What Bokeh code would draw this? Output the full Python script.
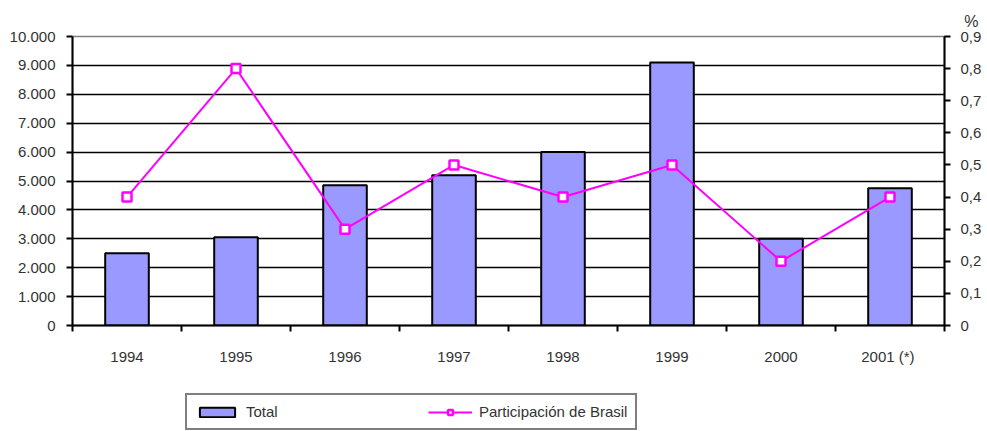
from bokeh.plotting import figure
from bokeh.layouts import column
from bokeh.models import (Range1d, LinearAxis, FixedTicker, ColumnDataSource,
                          Legend, LegendItem, Title)
from bokeh.embed import file_html
from bokeh.resources import INLINE

years = ["1994", "1995", "1996", "1997", "1998", "1999", "2000", "2001  (*)"]
total = [2500, 3050, 4850, 5200, 6000, 9100, 3000, 4750]
brasil = [0.4, 0.8, 0.3, 0.5, 0.4, 0.5, 0.2, 0.4]
left_ticks = [0, 1000, 2000, 3000, 4000, 5000, 6000, 7000, 8000, 9000, 10000]
right_ticks = [0, 0.1, 0.2, 0.3, 0.4, 0.5, 0.6, 0.7, 0.8, 0.9]

FONT = "Liberation Sans"
TXT = "#333333"
FS = "15px"
BAR_STYLE = dict(fill_color="#9999FF", line_color="black", line_width=2)
LINE_STYLE = dict(line_color="#FF00FF", line_width=2)
MK_STYLE = dict(marker="square", size=9, line_color="#FF00FF", line_width=2.5,
                fill_color="white")

n = len(years)
xc = [i + 0.5 for i in range(n)]
src = ColumnDataSource(dict(x=xc, total=total, brasil=brasil))

p = figure(width=987, height=370, output_backend="svg", toolbar_location=None,
           x_range=Range1d(0, n), y_range=Range1d(0, 10000),
           min_border_left=72, min_border_right=43, min_border_top=36,
           min_border_bottom=45)
p.extra_y_ranges = {"pct": Range1d(0, 0.9)}
p.outline_line_color = "#808080"
p.outline_line_width = 1.5
p.background_fill_color = "white"
p.border_fill_color = "white"

p.vbar(x="x", top="total", width=0.4, source=src, **BAR_STYLE)
p.line(x="x", y="brasil", source=src, y_range_name="pct", **LINE_STYLE)
p.scatter(x="x", y="brasil", source=src, y_range_name="pct", **MK_STYLE)

# x axis
xa = p.xaxis[0]
xa.ticker = FixedTicker(ticks=xc, minor_ticks=list(range(n + 1)))
xa.major_label_overrides = {x: y for x, y in zip(xc, years)}
xa.major_tick_line_color = None
xa.minor_tick_line_color = "black"
xa.minor_tick_line_width = 2
xa.minor_tick_out = 6
xa.minor_tick_in = 0
xa.axis_line_color = "black"
xa.axis_line_width = 2
xa.major_label_standoff = 16
xa.major_label_text_font = FONT
xa.major_label_text_font_size = FS
xa.major_label_text_color = TXT

# left y axis
ya = p.yaxis[0]
ya.ticker = FixedTicker(ticks=left_ticks, minor_ticks=[])
ya.major_label_overrides = {v: f"{v:,}".replace(",", ".") for v in left_ticks}
ya.axis_line_color = "black"
ya.axis_line_width = 2
ya.major_tick_line_color = "black"
ya.major_tick_line_width = 2
ya.major_tick_out = 6
ya.major_tick_in = 0
ya.major_label_text_font = FONT
ya.major_label_text_font_size = FS
ya.major_label_text_color = TXT
ya.major_label_standoff = 11

# right y axis
ra = LinearAxis(y_range_name="pct")
ra.ticker = FixedTicker(ticks=right_ticks, minor_ticks=[])
ra.major_label_overrides = {v: ("0" if v == 0 else f"{v:.1f}".replace(".", ",")) for v in right_ticks}
ra.axis_line_color = "black"
ra.axis_line_width = 2
ra.major_tick_line_color = "black"
ra.major_tick_line_width = 2
ra.major_tick_out = 6
ra.major_tick_in = 0
ra.major_label_text_font = FONT
ra.major_label_text_font_size = FS
ra.major_label_text_color = TXT
ra.major_label_standoff = 10
p.add_layout(ra, "right")

# grid
p.xgrid.grid_line_color = None
p.ygrid.ticker = FixedTicker(ticks=left_ticks[1:-1])
p.ygrid.grid_line_color = "black"
p.ygrid.grid_line_width = 1.5
p.ygrid.grid_line_alpha = 1

# percent label
p.add_layout(Title(text="%", align="right", offset=-34, text_font=FONT,
                   text_font_size="16px", text_color=TXT, text_font_style="normal",
                   standoff=14), "above")

# legend strip (separate figure so it is not clipped by the plot frame);
# its renderers reuse the data but are hidden
lg = figure(width=987, height=61, output_backend="svg", toolbar_location=None,
            x_axis_type=None, y_axis_type=None, x_range=Range1d(100, 101),
            y_range=Range1d(-101, -100), min_border=0)
lg.outline_line_color = None
lg.xgrid.grid_line_color = None
lg.ygrid.grid_line_color = None
r_bar = lg.vbar(x="x", top="total", width=0.4, source=src, visible=False, **BAR_STYLE)
r_line = lg.line(x="x", y="brasil", source=src, visible=False, **LINE_STYLE)
r_mk = lg.scatter(x="x", y="brasil", source=src, visible=False, **MK_STYLE)

legend = Legend(items=[LegendItem(label="Total", renderers=[r_bar]),
                       LegendItem(label="Participación de Brasil", renderers=[r_line, r_mk])],
                orientation="horizontal", location=(113, 1),
                border_line_color="black", border_line_width=2,
                padding=8, margin=0, spacing=82,
                glyph_width=44, glyph_height=12, label_width=100,
                label_standoff=7, inactive_fill_alpha=0,
                label_text_font=FONT, label_text_font_size=FS,
                label_text_color=TXT, background_fill_alpha=1)
lg.add_layout(legend, "center")

layout = column(p, lg, spacing=0)
open("out.html", "w").write(file_html(layout, INLINE))
